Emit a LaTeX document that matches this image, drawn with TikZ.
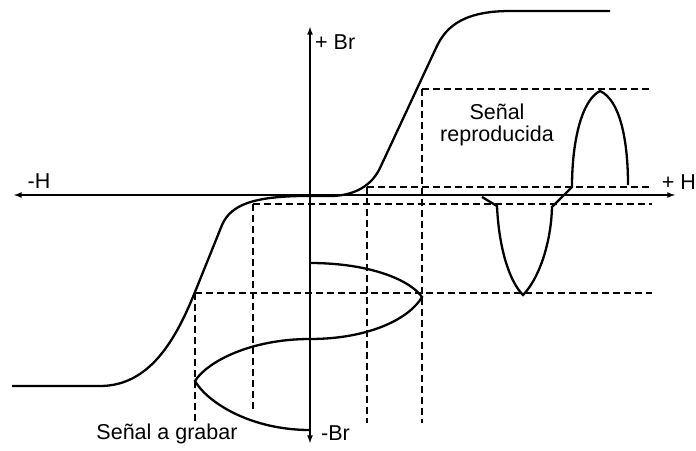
\documentclass[tikz,border=0pt]{standalone}
\usepackage{fontspec}
\setmainfont{Liberation Sans}
\begin{document}
\begin{tikzpicture}[x=1pt,y=-1pt,>=latex,font=\fontsize{21.5}{22}\selectfont,axis/.style={line width=1.6pt},curve/.style={line width=2.3pt},guide/.style={line width=1.1pt,dash pattern=on 7pt off 4pt}]
\useasboundingbox (0,0) rectangle (696,450);
\coordinate(hl) at (14,195);
\coordinate(hr) at (675,195);
\coordinate(bt) at (310,27);
\coordinate(bb) at (310,443);
\draw[axis,<->](hl) -- (hr);
\draw[axis,<->](bb) -- (bt);
\node(mh) at (39,181){-H};
\node[anchor=east,inner sep=0pt](ph) at (696,182){+ H};
\node[anchor=west,inner sep=1pt](pbr) at (314,42){+ Br};
\node[anchor=west,inner sep=1pt](mbr) at (320,433){-Br};
\node(grab) at (167,434){Señal a grabar};
\node[align=center](repr) at (497,125){Señal\\reproducida};
\coordinate(t1) at (12,386);
\coordinate(t2) at (195,292);
\coordinate(t3) at (222,225);
\coordinate(t4) at (330,196);
\coordinate(t5) at (380,168);
\coordinate(t6) at (436,48);
\coordinate(t7) at (610,11);
\draw[curve](t1) -- (100,386) .. controls (150,386) and (176,339) .. (t2) -- (t3) .. controls (231,204) and (255,197) .. (300,196) -- (t4) .. controls (355,196) and (372,185) .. (t5) -- (t6) .. controls (444,31) and (458,11) .. (510,11) -- (t7);
\coordinate(g1) at (195,293);
\coordinate(g2) at (253,204);
\coordinate(g3) at (367,187);
\coordinate(g4) at (422,89);
\draw[guide](g1) -- (195,423);
\draw[guide](g2) -- (253,410);
\draw[guide](g3) -- (367,423);
\draw[guide](g4) -- (422,423);
\draw[guide](g4) -- (652,89);
\draw[guide](g3) -- (652,187);
\draw[guide](g2) -- (652,204);
\draw[guide](g1) -- (652,293);
\coordinate(s1) at (310,263);
\coordinate(s2) at (422,297);
\coordinate(s3) at (310,339);
\coordinate(s4) at (195,381);
\coordinate(s5) at (310,430);
\draw[curve](s1) .. controls (370,263) and (410,280) .. (s2) .. controls (410,318) and (370,339) .. (s3) .. controls (250,339) and (207,362) .. (s4) .. controls (207,402) and (250,430) .. (s5);
\coordinate(r1) at (482,197);
\coordinate(r2) at (497,206);
\coordinate(r3) at (523,295);
\coordinate(r4) at (552,207);
\coordinate(r5) at (572,187);
\coordinate(r6) at (600,91);
\coordinate(r7) at (628,185);
\draw[curve](r1) -- (r2) .. controls (499,250) and (510,282) .. (r3) .. controls (538,280) and (551,245) .. (r4) -- (r5) .. controls (572,140) and (582,100) .. (r6) .. controls (620,100) and (628,140) .. (r7);
\end{tikzpicture}
\end{document}
